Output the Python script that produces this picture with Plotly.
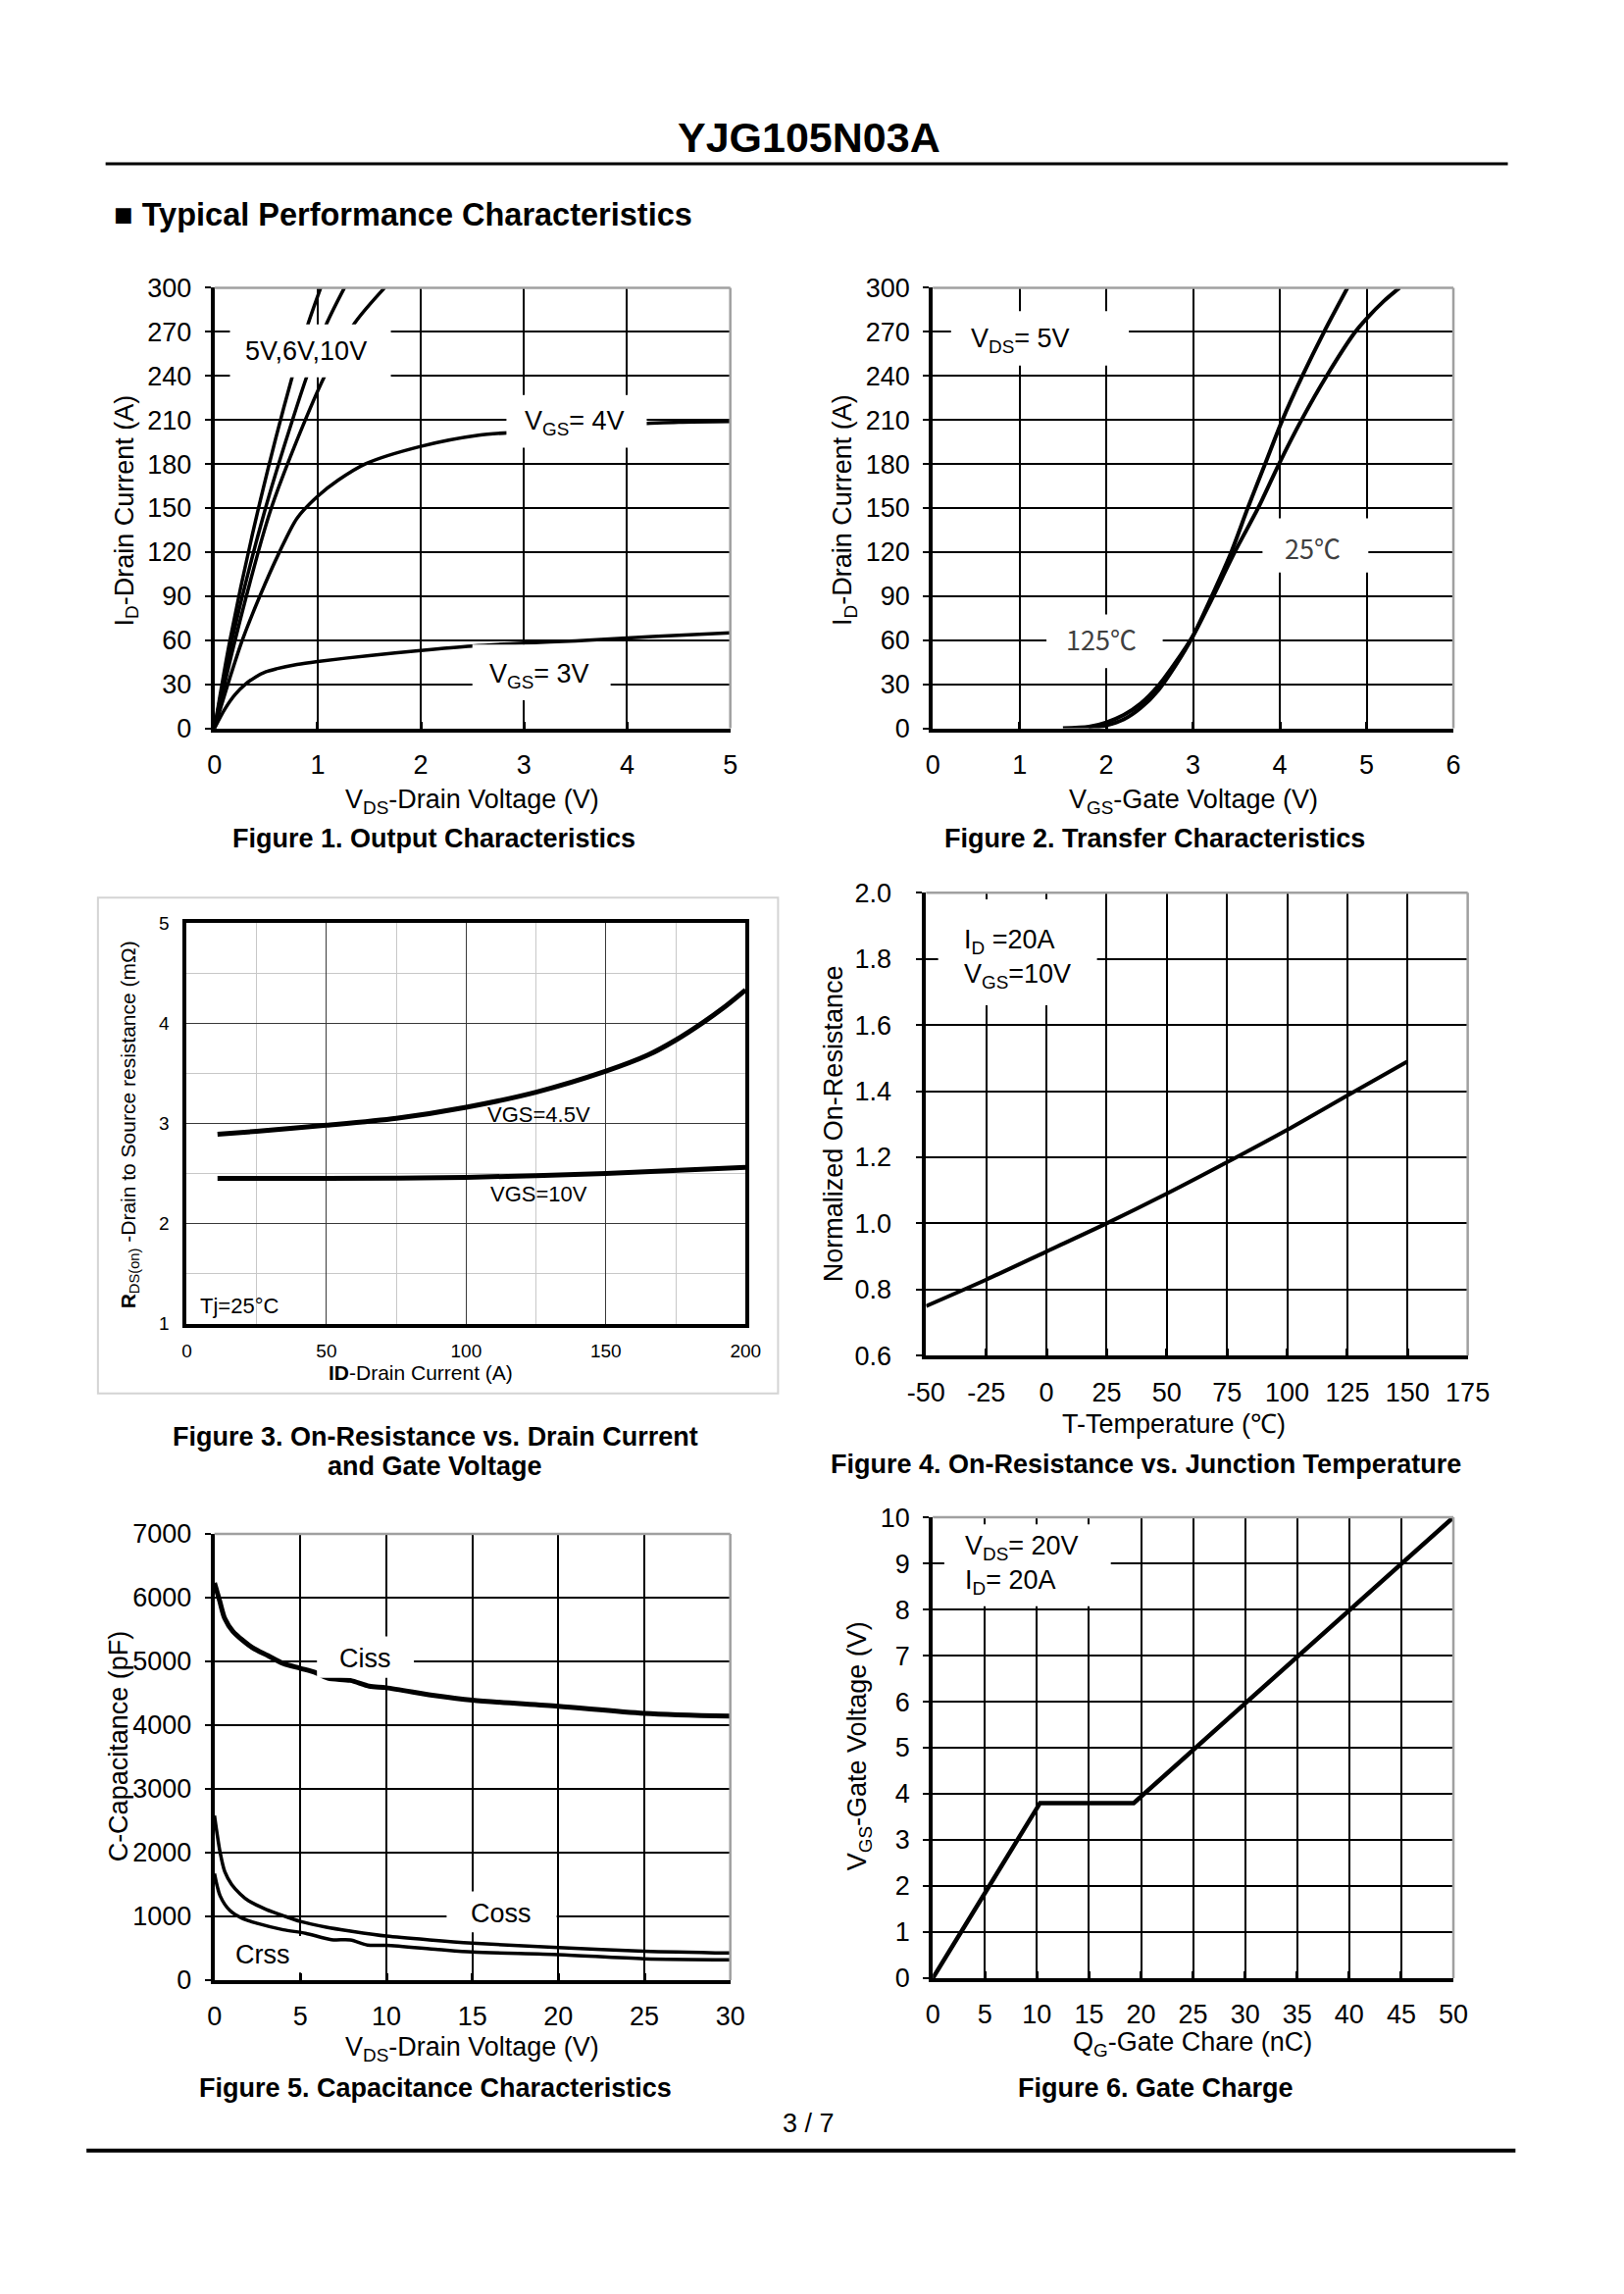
import plotly.graph_objects as go

W, H = 1656, 2339
FONT = "Liberation Sans, Arial, sans-serif"
CJK = "Noto Sans CJK SC, sans-serif"

# ---------------- Figure 1: Output characteristics ----------------
f1_vds_10v = [0, 0.15, 0.427, 0.752, 0.91, 1.03]
f1_id_10v = [0, 60, 150, 239, 276, 300]
f1_vds_6v = [0, 0.17, 0.495, 0.892, 1.09, 1.26]
f1_id_6v = [0, 60, 150, 239, 276, 300]
f1_vds_5v = [0, 0.2, 0.551, 1.062, 1.36, 1.65]
f1_id_5v = [0, 60, 150, 239, 276, 300]
f1_vds_4v = [0, 0.13, 0.27, 0.44, 0.63, 0.8, 1.0, 1.2, 1.46, 2.0, 2.56, 3.0, 3.5, 4.0, 4.5, 5.0]
f1_id_4v = [0, 30, 60, 90, 120, 143, 158, 169, 180, 192, 199.6, 202, 205, 207, 208.5, 209]
f1_vds_3v = [0, 0.1, 0.2, 0.3, 0.4, 0.5, 0.6, 0.8, 1.0, 1.5, 2.0, 2.5, 3.0, 3.5, 4.0, 4.5, 5.0]
f1_id_3v = [0, 13, 23, 30, 35, 38.5, 40.5, 43.5, 45.5, 49.5, 53, 56, 58, 59.5, 61.5, 63.3, 65]

# ---------------- Figure 2: Transfer characteristics ----------------
f2_vgs_25 = [1.8, 2.0, 2.2, 2.4, 2.6, 2.8, 3.0, 3.2, 3.44, 3.63, 3.83, 4.03, 4.26, 4.51, 4.78]
f2_id_25 = [0, 2, 6, 14, 26, 43, 63, 88, 120, 150, 180, 210, 240, 270, 300]
f2_vgs_125 = [1.5, 1.8, 2.0, 2.2, 2.4, 2.6, 2.8, 3.0, 3.2, 3.48, 3.75, 3.99, 4.25, 4.54, 4.87, 5.0, 5.2, 5.38]
f2_id_125 = [0, 1, 4, 9, 17, 29, 45, 63, 86, 120, 150, 180, 210, 240, 270, 279, 291, 300]

# ---------------- Figure 3: On-resistance vs drain current ----------------
f3_id_45 = [11, 25, 50, 75, 100, 125, 150, 165, 175, 185, 192, 200]
f3_r_45 = [2.89, 2.92, 2.98, 3.05, 3.16, 3.31, 3.52, 3.68, 3.83, 4.01, 4.15, 4.33]
f3_id_10 = [11, 50, 100, 150, 200]
f3_r_10 = [2.45, 2.45, 2.46, 2.50, 2.56]

# ---------------- Figure 4: On-resistance vs temperature ----------------
f4_t = [-50, -25, 0, 25, 50, 75, 100, 125, 150]
f4_r = [0.75, 0.83, 0.915, 1.0, 1.09, 1.185, 1.283, 1.387, 1.49]
f4_xtick_vals = [-50, -25, 0, 25, 50, 75, 100, 125, 150, 175]
f4_xtick_text = ["-50", "-25", "0", "25", "50", "75", "100", "125", "150", "175"]

# ---------------- Figure 5: Capacitance ----------------
f5_v_ciss = [0, 0.3, 0.6, 1.07, 2.2, 3.1, 4, 5, 5.9, 6.6, 7.9, 9, 10, 13, 15, 20, 25, 30]
f5_ciss = [6230, 5950, 5670, 5470, 5215, 5090, 4965, 4890, 4820, 4735, 4700, 4610, 4585, 4455, 4390, 4295, 4185, 4140]
f5_v_coss = [0, 0.33, 0.6, 1.0, 1.5, 2, 3, 4, 5, 6.5, 8, 10, 12.5, 15, 20, 25, 30]
f5_coss = [2580, 2000, 1700, 1500, 1350, 1240, 1110, 1010, 920, 830, 765, 690, 630, 580, 510, 455, 425]
f5_v_crss = [0, 0.33, 0.9, 1.6, 2.5, 4, 5.3, 6.8, 7.9, 8.9, 10, 13, 15, 20, 25, 30]
f5_crss = [1670, 1320, 1090, 970, 890, 790, 735, 635, 630, 550, 545, 480, 440, 400, 335, 320]

# ---------------- Figure 6: Gate charge ----------------
f6_qg = [0, 10.3, 19.3, 50]
f6_vgs = [0, 3.8, 3.8, 10]


def px(x):
    return x / W


def py(y):
    return 1 - y / H


fig = go.Figure()

TS = 27  # tick / axis-title size
axis_font = dict(family=FONT, size=TS, color="black")


def std_axes(n, xpx, ypx, xr, yr, xdt, ydt, yfmt=None, ystand=8):
    sx = "" if n == 1 else str(n)
    xa = dict(domain=[px(xpx[0]), px(xpx[1])], range=xr, dtick=xdt, tick0=xr[0],
              anchor="y" + sx, showgrid=True, gridcolor="black", gridwidth=1.5,
              showline=True, linecolor="black", linewidth=4, zeroline=False,
              ticks="inside", ticklen=7, tickwidth=3, tickcolor="black",
              tickfont=axis_font, ticklabelstandoff=10)
    ya = dict(domain=[py(ypx[1]), py(ypx[0])], range=yr, dtick=ydt, tick0=yr[0],
              anchor="x" + sx, showgrid=True, gridcolor="black", gridwidth=1.5,
              showline=True, linecolor="black", linewidth=4, zeroline=False,
              ticks="outside", ticklen=6, tickwidth=2, tickcolor="black",
              tickfont=axis_font, ticklabelstandoff=ystand)
    if yfmt:
        ya["tickformat"] = yfmt
    fig.layout["xaxis" + sx] = xa
    fig.layout["yaxis" + sx] = ya


std_axes(1, (204, 744), (282, 737), [0, 5], [0, 300], 1, 30)
std_axes(2, (956, 1501), (282, 737), [0, 6], [0, 300], 1, 30)
std_axes(4, (949, 1516), (907, 1385), [-50, 175], [0.6, 2.0], 25, 0.2, ".1f", ystand=20)
std_axes(5, (204, 744), (1569, 2030), [0, 30], [0, 7000], 5, 1000)
std_axes(6, (956, 1501), (1552, 2028), [0, 50], [0, 10], 5, 1)
fig.layout.xaxis4.tickmode = "array"
fig.layout.xaxis4.tickvals = f4_xtick_vals
fig.layout.xaxis4.ticktext = f4_xtick_text

small_font = dict(family=FONT, size=19, color="black")
fig.layout["xaxis3"] = dict(domain=[px(175), px(760)], range=[0, 200], dtick=50, tick0=0,
                            anchor="y3", showgrid=True, gridcolor="#3a3a3a", gridwidth=1.2,
                            minor=dict(dtick=25, showgrid=True, gridcolor="#c8c8c8", gridwidth=1.2),
                            showline=True, mirror=True, linecolor="black", linewidth=4,
                            zeroline=False, ticks="", tickfont=small_font, ticklabelstandoff=8)
fig.layout["yaxis3"] = dict(domain=[py(1352), py(938)], range=[1, 5], dtick=1, tick0=1,
                            anchor="x3", showgrid=True, gridcolor="#3a3a3a", gridwidth=1.2,
                            minor=dict(dtick=0.5, showgrid=True, gridcolor="#c8c8c8", gridwidth=1.2),
                            showline=True, mirror=True, linecolor="black", linewidth=4,
                            zeroline=False, ticks="", tickfont=small_font, ticklabelstandoff=10)


def line(x, y, n, width=4, shape="spline"):
    sx = "" if n == 1 else str(n)
    fig.add_trace(go.Scatter(x=x, y=y, mode="lines", xaxis="x" + sx, yaxis="y" + sx,
                             line=dict(color="black", width=width, shape=shape,
                                       smoothing=0.8 if shape == "spline" else None),
                             hoverinfo="skip", showlegend=False))


line(f1_vds_10v, f1_id_10v, 1, 3.5)
line(f1_vds_6v, f1_id_6v, 1, 3.5)
line(f1_vds_5v, f1_id_5v, 1, 3.5)
line(f1_vds_4v, f1_id_4v, 1, 3.5)
line(f1_vds_3v, f1_id_3v, 1, 3.5)
line(f2_vgs_25, f2_id_25, 2, 4)
line(f2_vgs_125, f2_id_125, 2, 4)
line(f3_id_45, f3_r_45, 3, 5)
line(f3_id_10, f3_r_10, 3, 5)
line(f4_t, f4_r, 4, 4)
line(f5_v_ciss, f5_ciss, 5, 5)
line(f5_v_coss, f5_coss, 5, 3.5)
line(f5_v_crss, f5_crss, 5, 3.5)
line(f6_qg, f6_vgs, 6, 4.5, "linear")

shapes = []
# grey top/right frame lines
for n in ["", "2", "4", "5", "6"]:
    for (x0, y0, x1, y1) in [(0, 1, 1, 1), (1, 0, 1, 1)]:
        shapes.append(dict(type="line", xref="x%s domain" % n, yref="y%s domain" % n,
                           x0=x0, y0=y0, x1=x1, y1=y1, line=dict(color="#a0a0a0", width=2.5),
                           layer="above"))


def wbox(n, x0, x1, y0, y1):
    sx = "" if n == 1 else str(n)
    shapes.append(dict(type="rect", xref="x" + sx, yref="y" + sx, x0=x0, x1=x1, y0=y0, y1=y1,
                       fillcolor="white", line=dict(width=0), layer="above"))


wbox(1, 0.15, 1.71, 239, 275)
wbox(1, 2.83, 4.19, 191, 227)
wbox(1, 2.5, 3.84, 19, 57)
wbox(2, 0.21, 2.26, 247, 284)
wbox(2, 3.8, 5.02, 106, 143)
wbox(2, 1.31, 2.65, 41, 77.5)
wbox(4, -45, 21, 1.66, 1.98)
wbox(5, 5.96, 11.6, 4740, 5390)
wbox(5, 13.5, 19.9, 750, 1390)
wbox(5, 0.5, 5.1, 120, 690)
wbox(6, 1.1, 17.1, 8.07, 9.85)

# header / footer rules and Figure 3 frame
shapes.append(dict(type="line", xref="paper", yref="paper", x0=px(90), x1=px(1558),
                   y0=py(154), y1=py(154), line=dict(color="black", width=3)))
shapes.append(dict(type="line", xref="paper", yref="paper", x0=px(70), x1=px(1566),
                   y0=py(2206), y1=py(2206), line=dict(color="black", width=4)))
shapes.append(dict(type="rect", xref="paper", yref="paper", x0=px(82), x1=px(794),
                   y0=py(1424), y1=py(912), line=dict(color="#d4d4d4", width=2), layer="below"))
fig.layout.shapes = shapes

anns = []


def pa(text, x, y, size=TS, bold=False, angle=0, xanchor="center", family=FONT):
    if bold:
        text = "<b>" + text + "</b>"
    anns.append(dict(text=text, x=px(x), y=py(y), xref="paper", yref="paper", showarrow=False,
                     xanchor=xanchor, yanchor="middle", textangle=angle,
                     font=dict(family=family, size=size, color="black")))


def da(n, text, x, y, size=TS, xanchor="center", family=FONT, color="black", align="center"):
    sx = "" if n == 1 else str(n)
    anns.append(dict(text=text, x=x, y=y, xref="x" + sx, yref="y" + sx, showarrow=False,
                     xanchor=xanchor, yanchor="middle", align=align,
                     font=dict(family=family, size=size, color=color)))


CAP = 27
# page texts
pa("YJG105N03A", 826, 127, size=43, bold=True)
pa("■ Typical Performance Characteristics", 97, 207, size=32.5, bold=True, xanchor="left")
pa("3 / 7", 826, 2178, size=27)

# Figure 1
pa("I<sub>D</sub>-Drain Current (A)", 112, 512, angle=-90)
pa("V<sub>DS</sub>-Drain Voltage (V)", 474, 812)
pa("Figure 1. Output Characteristics", 434, 851, size=CAP, bold=True)
da(1, "5V,6V,10V", 0.89, 257)
da(1, "V<sub>GS</sub>= 4V", 3.49, 208)
da(1, "V<sub>GS</sub>= 3V", 3.15, 36)

# Figure 2
pa("I<sub>D</sub>-Drain Current (A)", 864, 512, angle=-90)
pa("V<sub>GS</sub>-Gate Voltage (V)", 1229, 812)
pa("Figure 2. Transfer Characteristics", 1188, 851, size=CAP, bold=True)
da(2, "V<sub>DS</sub>= 5V", 1.01, 264)
da(2, "25℃", 4.38, 123, family=CJK, color="#404040")
da(2, "125℃", 1.94, 60.6, family=CJK, color="#404040")

# Figure 3
pa("<b>R</b><sub>DS(on)</sub> -Drain to Source resistance (mΩ)", 115, 1147, size=21, angle=-90)
pa("<b>ID</b>-Drain Current (A)", 420, 1402, size=21)
pa("Figure 3. On-Resistance vs. Drain Current", 435, 1469, size=CAP, bold=True)
pa("and Gate Voltage", 435, 1499, size=CAP, bold=True)
da(3, "VGS=4.5V", 126, 3.09, size=22)
da(3, "VGS=10V", 126, 2.29, size=22)
da(3, "Tj=25°C", 4, 1.18, size=22, xanchor="left")

# Figure 4
pa("Normalized On-Resistance", 852, 1145, angle=-90)
pa("T-Temperature (℃)", 1208, 1456)
pa("Figure 4. On-Resistance vs. Junction Temperature", 1179, 1497, size=CAP, bold=True)
da(4, "I<sub>D</sub> =20A<br>V<sub>GS</sub>=10V", -35, 1.80, xanchor="left", align="left")

# Figure 5
pa("C-Capacitance (pF)", 104, 1788, angle=-90)
pa("V<sub>DS</sub>-Drain Voltage (V)", 474, 2101)
pa("Figure 5. Capacitance Characteristics", 435, 2141, size=CAP, bold=True)
da(5, "Ciss", 8.76, 5038)
da(5, "Coss", 16.7, 1052)
da(5, "Crss", 2.82, 405)

# Figure 6
pa("V<sub>GS</sub>-Gate Voltage (V)", 879, 1788, angle=-90)
pa("Q<sub>G</sub>-Gate Chare (nC)", 1228, 2096)
pa("Figure 6. Gate Charge", 1189, 2141, size=CAP, bold=True)
da(6, "V<sub>DS</sub>= 20V<br>I<sub>D</sub>= 20A", 2.9, 8.97, xanchor="left", align="left")

fig.layout.annotations = anns

fig.update_layout(width=W, height=H, margin=dict(l=0, r=0, t=0, b=0),
                  paper_bgcolor="white", plot_bgcolor="white", showlegend=False,
                  font=dict(family=FONT, color="black"))

fig.write_html("out.html", config={"displayModeBar": False},
               post_script="document.body.style.margin='0';")
